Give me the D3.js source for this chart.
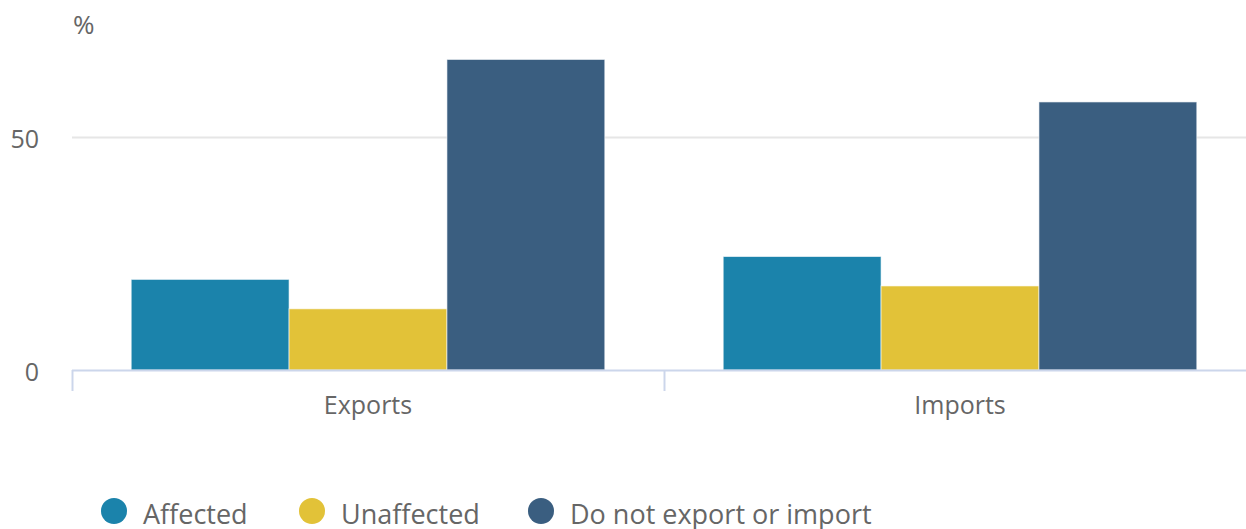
<!DOCTYPE html>
<html>
<head>
<meta charset="utf-8">
<script src="https://cdn.jsdelivr.net/npm/d3@7"></script>
<style>
  html, body { margin: 0; padding: 0; background: #fff; overflow: hidden; }
  svg { display: block; font-family: "Open Sans", sans-serif; }
</style>
</head>
<body>
<svg id="chart" width="1246" height="529"></svg>
<script>
// Share of firms by trade status (%)
const categories = ["Exports", "Imports"];
const seriesNames = ["Affected", "Unaffected", "Do not export or import"];
const affected = [19.4, 24.3];
const unaffected = [13.1, 18.0];
const doNotTrade = [66.5, 57.4];
const yTicks = [0, 50];
const yUnit = "%";

const colors = ["#1b83ab", "#e2c238", "#3a5e80"];
const seriesValues = [affected, unaffected, doNotTrade];

const svg = d3.select("#chart");

const plot = { left: 72, right: 1256, top: 20, bottom: 370 };

const y = d3.scaleLinear().domain([0, 75]).range([plot.bottom, plot.bottom - 75 * 4.67]);
const x0 = d3.scaleBand().domain(categories).range([plot.left, plot.right]).padding(0);
const groupPad = x0.bandwidth() * 0.1;
const x1 = d3.scaleBand().domain(seriesNames)
  .range([groupPad, x0.bandwidth() - groupPad]).padding(0);

// grid lines
svg.append("g").selectAll("line")
  .data(yTicks.filter(d => d !== 0))
  .join("line")
  .attr("x1", plot.left).attr("x2", plot.right)
  .attr("y1", d => Math.round(y(d)) + 0.5).attr("y2", d => Math.round(y(d)) + 0.5)
  .attr("stroke", "#e6e6e6").attr("stroke-width", 2);

// y axis labels
const yAxis = d3.axisLeft(y).tickValues(yTicks).tickSize(0).tickPadding(0).tickFormat(d3.format("d"));
const gy = svg.append("g").attr("transform", "translate(39,0)").call(yAxis);
gy.select(".domain").remove();
gy.selectAll("text")
  .attr("font-family", "Open Sans, sans-serif")
  .attr("font-size", 25).attr("fill", "#666").attr("dy", "0.42em");

// unit label
svg.append("text").attr("x", 73).attr("y", 34)
  .attr("font-size", 26).attr("fill", "#666").text(yUnit);

// bars
const groups = svg.append("g").selectAll("g")
  .data(categories)
  .join("g")
  .attr("transform", d => `translate(${x0(d)},0)`);

groups.selectAll("rect")
  .data((c, i) => seriesNames.map((s, k) => ({ s, k, v: seriesValues[k][i] })))
  .join("rect")
  .attr("x", d => x1(d.s))
  .attr("width", x1.bandwidth())
  .attr("y", d => y(d.v))
  .attr("height", d => y(0) - y(d.v))
  .attr("fill", d => colors[d.k])
  .attr("stroke", "#ffffff").attr("stroke-opacity", 0.6).attr("stroke-width", 1);

// x axis
const xAxis = d3.axisBottom(x0).tickSize(0).tickPadding(0);
const gx = svg.append("g").attr("transform", `translate(0,${plot.bottom})`).call(xAxis);
gx.select(".domain").remove();
gx.selectAll("text")
  .attr("font-family", "Open Sans, sans-serif")
  .attr("font-size", 25).attr("fill", "#666").attr("y", 44).attr("dy", 0);

svg.append("line")
  .attr("x1", plot.left).attr("x2", plot.right)
  .attr("y1", plot.bottom + 0.5).attr("y2", plot.bottom + 0.5)
  .attr("stroke", "#ccd6eb").attr("stroke-width", 2);

// category boundary ticks
const tickXs = categories.map(c => x0(c)).concat([plot.right]);
svg.append("g").selectAll("line")
  .data(tickXs)
  .join("line")
  .attr("x1", d => d + 0.5).attr("x2", d => d + 0.5)
  .attr("y1", plot.bottom).attr("y2", plot.bottom + 21)
  .attr("stroke", "#ccd6eb").attr("stroke-width", 2);

// legend
const legendX = [114, 312, 541];
const legend = svg.append("g").selectAll("g")
  .data(seriesNames)
  .join("g")
  .attr("transform", (d, i) => `translate(${legendX[i]},511)`);
legend.append("circle").attr("r", 13).attr("fill", (d, i) => colors[i]);
legend.append("text")
  .attr("x", 29).attr("y", 13)
  .attr("font-size", 27).attr("fill", "#666")
  .text(d => d);
</script>
</body>
</html>
